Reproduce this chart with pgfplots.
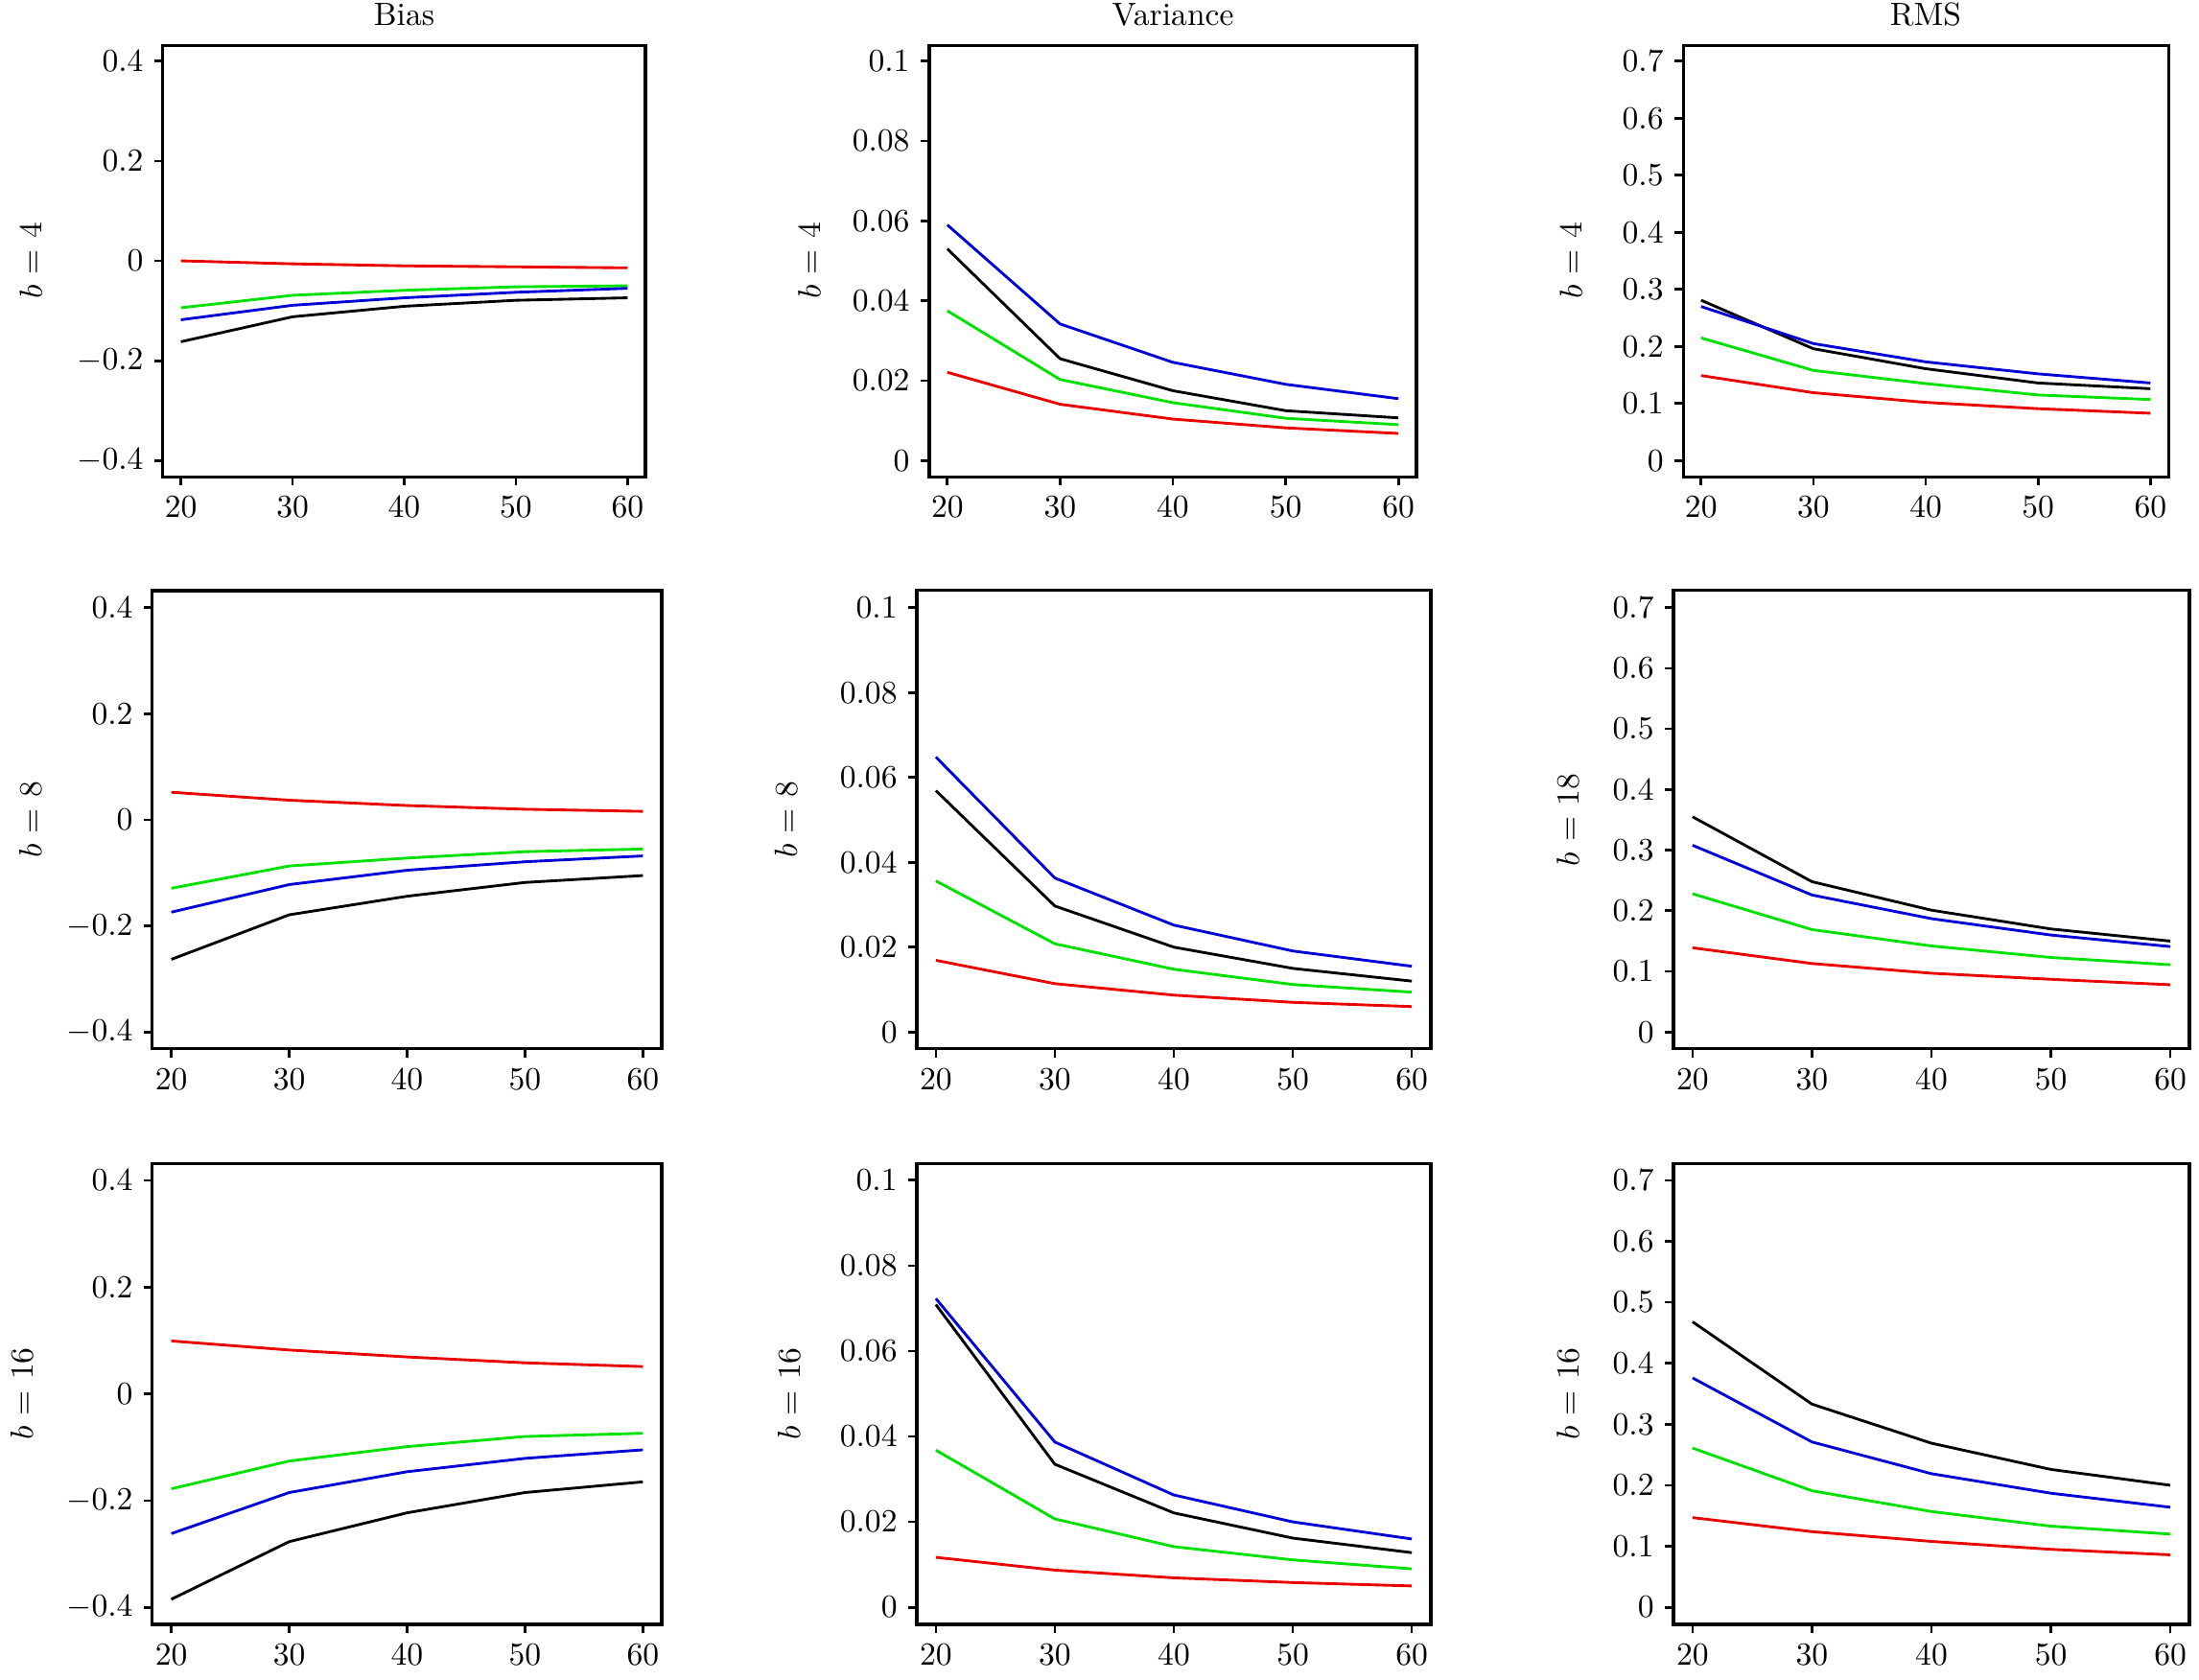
\documentclass[border=0pt]{standalone}
\usepackage{pgfplots}
\pgfplotsset{compat=1.18}

\definecolor{rred}{RGB}{235,0,0}
\definecolor{rgreen}{RGB}{0,225,0}
\definecolor{rblue}{RGB}{0,0,215}

\pgfplotsset{
  panel/.style={
    scale only axis, anchor=south west,
    xmin=18.4, xmax=61.6,
    xtick={20,30,40,50,60},
    tick align=outside, xtick pos=bottom, ytick pos=left,
    major tick length=0.09cm,
    every tick/.style={black, line width=0.8pt},
    axis line style={line width=0.9pt},
    scaled y ticks=false,
    ylabel style={anchor=center},
    title style={at={(axis description cs:0.5,1)}, anchor=center, yshift=0.12cm},
    every axis plot/.append style={line width=0.85pt, mark=none},
  },
  biasax/.style={ymin=-0.432, ymax=0.432,
    ytick={-0.4,-0.2,0,0.2,0.4},
    yticklabels={$-0.4$,$-0.2$,$0$,$0.2$,$0.4$}},
  varax/.style={ymin=-0.004, ymax=0.104,
    ytick={0,0.02,0.04,0.06,0.08,0.1},
    yticklabels={$0$,$0.02$,$0.04$,$0.06$,$0.08$,$0.1$}},
  rmsax/.style={ymin=-0.028, ymax=0.728,
    ytick={0,0.1,0.2,0.3,0.4,0.5,0.6,0.7},
    yticklabels={$0$,$0.1$,$0.2$,$0.3$,$0.4$,$0.5$,$0.6$,$0.7$}},
}

\begin{document}
\begin{tikzpicture}
\useasboundingbox (0,0) rectangle (24cm,-18.337cm);

% ---------- row 1 : b = 4 ----------
\begin{axis}[panel, biasax, at={(1.779cm,-5.202cm)}, width=5.265cm, height=4.710cm,
  title={Bias}, ylabel={$b$ = 4}, ylabel style={at={(axis description cs:-0.274,0.5)}}]
\addplot[black] coordinates {(20,-0.162)(30,-0.112)(40,-0.091)(50,-0.079)(60,-0.074)};
\addplot[rred] coordinates {(20,0)(30,-0.006)(40,-0.010)(50,-0.012)(60,-0.014)};
\addplot[rgreen] coordinates {(20,-0.094)(30,-0.069)(40,-0.059)(50,-0.052)(60,-0.050)};
\addplot[rblue] coordinates {(20,-0.118)(30,-0.089)(40,-0.074)(50,-0.063)(60,-0.055)};
\end{axis}

\begin{axis}[panel, varax, at={(10.142cm,-5.202cm)}, width=5.317cm, height=4.710cm,
  title={Variance}, ylabel={$b$ = 4}, ylabel style={at={(axis description cs:-0.246,0.5)}}]
\addplot[black] coordinates {(20,0.053)(30,0.0255)(40,0.0175)(50,0.0125)(60,0.0107)};
\addplot[rred] coordinates {(20,0.0221)(30,0.0141)(40,0.0104)(50,0.0082)(60,0.0068)};
\addplot[rgreen] coordinates {(20,0.0375)(30,0.0203)(40,0.0145)(50,0.0106)(60,0.009)};
\addplot[rblue] coordinates {(20,0.059)(30,0.0342)(40,0.0246)(50,0.0191)(60,0.0155)};
\end{axis}

\begin{axis}[panel, rmsax, at={(18.369cm,-5.202cm)}, width=5.296cm, height=4.710cm,
  title={RMS}, ylabel={$b$ = 4}, ylabel style={at={(axis description cs:-0.231,0.5)}}]
\addplot[black] coordinates {(20,0.281)(30,0.196)(40,0.161)(50,0.136)(60,0.126)};
\addplot[rred] coordinates {(20,0.149)(30,0.119)(40,0.102)(50,0.091)(60,0.083)};
\addplot[rgreen] coordinates {(20,0.215)(30,0.158)(40,0.135)(50,0.115)(60,0.107)};
\addplot[rblue] coordinates {(20,0.270)(30,0.205)(40,0.173)(50,0.152)(60,0.136)};
\end{axis}

% ---------- row 2 : b = 8 / 18 ----------
\begin{axis}[panel, biasax, at={(1.664cm,-11.450cm)}, width=5.558cm, height=5.003cm,
  ylabel={$b$ = 8}, ylabel style={at={(axis description cs:-0.239,0.5)}}]
\addplot[black] coordinates {(20,-0.263)(30,-0.179)(40,-0.144)(50,-0.118)(60,-0.105)};
\addplot[rred] coordinates {(20,0.052)(30,0.037)(40,0.027)(50,0.020)(60,0.016)};
\addplot[rgreen] coordinates {(20,-0.129)(30,-0.087)(40,-0.072)(50,-0.060)(60,-0.055)};
\addplot[rblue] coordinates {(20,-0.174)(30,-0.122)(40,-0.095)(50,-0.079)(60,-0.068)};
\end{axis}

\begin{axis}[panel, varax, at={(10.006cm,-11.450cm)}, width=5.610cm, height=5.003cm,
  ylabel={$b$ = 8}, ylabel style={at={(axis description cs:-0.254,0.5)}}]
\addplot[black] coordinates {(20,0.0569)(30,0.0297)(40,0.020)(50,0.015)(60,0.012)};
\addplot[rred] coordinates {(20,0.0169)(30,0.0114)(40,0.0087)(50,0.007)(60,0.006)};
\addplot[rgreen] coordinates {(20,0.0356)(30,0.0208)(40,0.0148)(50,0.0112)(60,0.0094)};
\addplot[rblue] coordinates {(20,0.0648)(30,0.0363)(40,0.0252)(50,0.0191)(60,0.0155)};
\end{axis}

\begin{axis}[panel, rmsax, at={(18.264cm,-11.450cm)}, width=5.631cm, height=5.003cm,
  ylabel={$b$ = 18}, ylabel style={at={(axis description cs:-0.204,0.5)}}]
\addplot[black] coordinates {(20,0.355)(30,0.248)(40,0.201)(50,0.170)(60,0.150)};
\addplot[rred] coordinates {(20,0.139)(30,0.113)(40,0.097)(50,0.087)(60,0.078)};
\addplot[rgreen] coordinates {(20,0.228)(30,0.169)(40,0.142)(50,0.123)(60,0.111)};
\addplot[rblue] coordinates {(20,0.308)(30,0.226)(40,0.187)(50,0.160)(60,0.141)};
\end{axis}

% ---------- row 3 : b = 16 ----------
\begin{axis}[panel, biasax, at={(1.664cm,-17.730cm)}, width=5.558cm, height=5.034cm,
  ylabel={$b$ = 16}, ylabel style={at={(axis description cs:-0.256,0.5)}}]
\addplot[black] coordinates {(20,-0.385)(30,-0.277)(40,-0.223)(50,-0.185)(60,-0.165)};
\addplot[rred] coordinates {(20,0.099)(30,0.082)(40,0.069)(50,0.058)(60,0.051)};
\addplot[rgreen] coordinates {(20,-0.178)(30,-0.126)(40,-0.099)(50,-0.080)(60,-0.074)};
\addplot[rblue] coordinates {(20,-0.262)(30,-0.185)(40,-0.146)(50,-0.121)(60,-0.105)};
\end{axis}

\begin{axis}[panel, varax, at={(10.006cm,-17.730cm)}, width=5.610cm, height=5.034cm,
  ylabel={$b$ = 16}, ylabel style={at={(axis description cs:-0.248,0.5)}}]
\addplot[black] coordinates {(20,0.0709)(30,0.0335)(40,0.0221)(50,0.0162)(60,0.0128)};
\addplot[rred] coordinates {(20,0.0117)(30,0.0087)(40,0.0069)(50,0.0058)(60,0.005)};
\addplot[rgreen] coordinates {(20,0.0368)(30,0.0207)(40,0.0142)(50,0.0111)(60,0.009)};
\addplot[rblue] coordinates {(20,0.0723)(30,0.0387)(40,0.0263)(50,0.020)(60,0.016)};
\end{axis}

\begin{axis}[panel, rmsax, at={(18.264cm,-17.730cm)}, width=5.631cm, height=5.034cm,
  ylabel={$b$ = 16}, ylabel style={at={(axis description cs:-0.204,0.5)}}]
\addplot[black] coordinates {(20,0.468)(30,0.333)(40,0.269)(50,0.226)(60,0.200)};
\addplot[rred] coordinates {(20,0.147)(30,0.124)(40,0.108)(50,0.095)(60,0.086)};
\addplot[rgreen] coordinates {(20,0.261)(30,0.191)(40,0.157)(50,0.133)(60,0.120)};
\addplot[rblue] coordinates {(20,0.376)(30,0.271)(40,0.219)(50,0.187)(60,0.164)};
\end{axis}

\end{tikzpicture}
\end{document}
